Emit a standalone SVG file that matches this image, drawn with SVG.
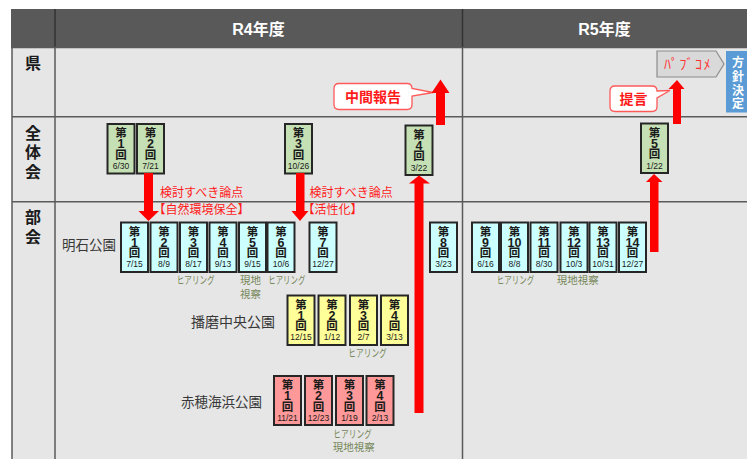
<svg xmlns="http://www.w3.org/2000/svg" width="747" height="459" viewBox="0 0 747 459">
<style>
.bg{fill:#e6e6e6}
.grid{stroke:#5a5a5a;stroke-width:1.5;fill:none}
.hdr{fill:#595959}
.hdiv{stroke:#333;stroke-width:1.5}
.htxt{fill:#fff;font-family:"Liberation Sans","Noto Sans CJK JP",sans-serif;font-weight:bold;font-size:16px;text-anchor:middle}
.row{fill:#1a1a1a;font-family:"Noto Sans CJK JP",sans-serif;font-weight:bold;font-size:16px;text-anchor:middle}
.node rect{stroke:#262626;stroke-width:2}
.g rect{fill:#c5e0b4}
.c rect{fill:#ccffff}
.y rect{fill:#ffff99}
.p rect{fill:#ff9999}
.node text{text-anchor:middle;fill:#1a1a1a;font-family:"Liberation Sans","Noto Sans CJK JP",sans-serif}
.k{font-size:11.5px;font-weight:bold}
.n{font-size:12.5px;font-weight:bold}
.d{font-size:8.5px;font-weight:normal}
.park{fill:#383838;font-family:"Noto Sans CJK JP",sans-serif}
.note{fill:#76885a;font-family:"Noto Sans CJK JP",sans-serif;font-size:10.5px}
.rtxt{fill:#ff1a1a;font-family:"Noto Sans CJK JP",sans-serif;font-size:12px}
.arrow{fill:#ff0000}
.callout{fill:#fff;stroke:#ff5a5a;stroke-width:1.3}
.ctxt{fill:#ff1a1a;font-family:"Noto Sans CJK JP",sans-serif;font-weight:bold;font-size:14px;text-anchor:middle}
</style>

<rect x="0" y="0" width="747" height="459" fill="#ffffff"/>
<g id="table">
  <rect class="bg" x="12" y="47" width="735" height="412"/>
  <rect class="hdr" x="11" y="9" width="736" height="38.5"/>
  <line class="hdiv" x1="55" y1="9" x2="55" y2="47.5"/>
  <line class="hdiv" x1="462.5" y1="9" x2="462.5" y2="47.5"/>
  <text class="htxt" x="258.5" y="34.5">R4年度</text>
  <text class="htxt" x="604.5" y="34.5">R5年度</text>
  <line class="grid" x1="11" y1="47.5" x2="747" y2="47.5"/>
  <line class="grid" x1="12" y1="116.7" x2="747" y2="116.7"/>
  <line class="grid" x1="12" y1="201.7" x2="747" y2="201.7"/>
  <line class="grid" x1="12" y1="47" x2="12" y2="459"/>
  <line class="grid" x1="55" y1="47" x2="55" y2="459"/>
  <line class="grid" x1="462.5" y1="47" x2="462.5" y2="459"/>
  <text class="row" x="33" y="68.5">県</text>
  <text class="row"><tspan x="33" y="139">全</tspan><tspan x="33" y="158">体</tspan><tspan x="33" y="177.5">会</tspan></text>
  <text class="row"><tspan x="33" y="222.5">部</tspan><tspan x="33" y="242.5">会</tspan></text>
</g>

<g id="labels">
  <text class="park" x="62" y="250" font-size="13.5">明石公園</text>
  <text class="park" x="191" y="326.7" font-size="14">播磨中央公園</text>
  <text class="park" x="181" y="406.5" font-size="13.5">赤穂海浜公園</text>
  <text class="note" x="176.7" y="284" textLength="38" lengthAdjust="spacingAndGlyphs">ヒアリング</text>
  <text class="note"><tspan x="240" y="284">現地</tspan><tspan x="240" y="297.5">視察</tspan></text>
  <text class="note" x="268.3" y="284" textLength="37" lengthAdjust="spacingAndGlyphs">ヒアリング</text>
  <text class="note" x="496.7" y="283.5" textLength="37.5" lengthAdjust="spacingAndGlyphs">ヒアリング</text>
  <text class="note" x="556.7" y="283.5">現地視察</text>
  <text class="note" x="348.3" y="357" textLength="38.5" lengthAdjust="spacingAndGlyphs">ヒアリング</text>
  <text class="note"><tspan x="333.3" y="438" textLength="38.5" lengthAdjust="spacingAndGlyphs">ヒアリング</tspan><tspan x="332.7" y="450.5">現地視察</tspan></text>
  <text class="rtxt"><tspan x="160" y="197">検討すべき論点</tspan><tspan x="153.5" y="213.5">【自然環境保全】</tspan></text>
  <text class="rtxt"><tspan x="309.5" y="197">検討すべき論点</tspan><tspan x="302.5" y="213.5">【活性化】</tspan></text>
</g>

<g id="zentai-1" class="node g" transform="translate(107.5,124)"><rect width="27" height="49.5"/><text><tspan class="k" x="13.5" y="13">第</tspan><tspan class="n" x="13.5" y="24">1</tspan><tspan class="k" x="13.5" y="34.5">回</tspan><tspan class="d" x="13.5" y="45">6/30</tspan></text></g>
<g id="zentai-2" class="node g" transform="translate(137,124)"><rect width="27" height="49.5"/><text><tspan class="k" x="13.5" y="13">第</tspan><tspan class="n" x="13.5" y="24">2</tspan><tspan class="k" x="13.5" y="34.5">回</tspan><tspan class="d" x="13.5" y="45">7/21</tspan></text></g>
<g id="zentai-3" class="node g" transform="translate(285,124)"><rect width="27" height="49.5"/><text><tspan class="k" x="13.5" y="13">第</tspan><tspan class="n" x="13.5" y="24">3</tspan><tspan class="k" x="13.5" y="34.5">回</tspan><tspan class="d" x="13.5" y="45">10/26</tspan></text></g>
<g id="zentai-4" class="node g" transform="translate(405.5,125.5)"><rect width="27" height="49.5"/><text><tspan class="k" x="13.5" y="13">第</tspan><tspan class="n" x="13.5" y="24">4</tspan><tspan class="k" x="13.5" y="34.5">回</tspan><tspan class="d" x="13.5" y="45">3/22</tspan></text></g>
<g id="zentai-5" class="node g" transform="translate(641,123.5)"><rect width="27" height="49.5"/><text><tspan class="k" x="13.5" y="13">第</tspan><tspan class="n" x="13.5" y="24">5</tspan><tspan class="k" x="13.5" y="34.5">回</tspan><tspan class="d" x="13.5" y="45">1/22</tspan></text></g>

<g id="akashi-1" class="node c" transform="translate(121,222.5)"><rect width="27" height="49.5"/><text><tspan class="k" x="13.5" y="13.5">第</tspan><tspan class="n" x="13.5" y="24.5">1</tspan><tspan class="k" x="13.5" y="34.5">回</tspan><tspan class="d" x="13.5" y="44.5">7/15</tspan></text></g>
<g id="akashi-2" class="node c" transform="translate(150.5,222.5)"><rect width="27" height="49.5"/><text><tspan class="k" x="13.5" y="13.5">第</tspan><tspan class="n" x="13.5" y="24.5">2</tspan><tspan class="k" x="13.5" y="34.5">回</tspan><tspan class="d" x="13.5" y="44.5">8/9</tspan></text></g>
<g id="akashi-3" class="node c" transform="translate(180,222.5)"><rect width="27" height="49.5"/><text><tspan class="k" x="13.5" y="13.5">第</tspan><tspan class="n" x="13.5" y="24.5">3</tspan><tspan class="k" x="13.5" y="34.5">回</tspan><tspan class="d" x="13.5" y="44.5">8/17</tspan></text></g>
<g id="akashi-4" class="node c" transform="translate(209.5,222.5)"><rect width="27" height="49.5"/><text><tspan class="k" x="13.5" y="13.5">第</tspan><tspan class="n" x="13.5" y="24.5">4</tspan><tspan class="k" x="13.5" y="34.5">回</tspan><tspan class="d" x="13.5" y="44.5">9/13</tspan></text></g>
<g id="akashi-5" class="node c" transform="translate(239,222.5)"><rect width="27" height="49.5"/><text><tspan class="k" x="13.5" y="13.5">第</tspan><tspan class="n" x="13.5" y="24.5">5</tspan><tspan class="k" x="13.5" y="34.5">回</tspan><tspan class="d" x="13.5" y="44.5">9/15</tspan></text></g>
<g id="akashi-6" class="node c" transform="translate(267.5,222.5)"><rect width="27" height="49.5"/><text><tspan class="k" x="13.5" y="13.5">第</tspan><tspan class="n" x="13.5" y="24.5">6</tspan><tspan class="k" x="13.5" y="34.5">回</tspan><tspan class="d" x="13.5" y="44.5">10/6</tspan></text></g>
<g id="akashi-7" class="node c" transform="translate(309.5,222.5)"><rect width="27" height="49.5"/><text><tspan class="k" x="13.5" y="13.5">第</tspan><tspan class="n" x="13.5" y="24.5">7</tspan><tspan class="k" x="13.5" y="34.5">回</tspan><tspan class="d" x="13.5" y="44.5">12/27</tspan></text></g>
<g id="akashi-8" class="node c" transform="translate(430,222.5)"><rect width="27" height="49.5"/><text><tspan class="k" x="13.5" y="13.5">第</tspan><tspan class="n" x="13.5" y="24.5">8</tspan><tspan class="k" x="13.5" y="34.5">回</tspan><tspan class="d" x="13.5" y="44.5">3/23</tspan></text></g>
<g id="akashi-9" class="node c" transform="translate(472,222.5)"><rect width="27" height="49.5"/><text><tspan class="k" x="13.5" y="13.5">第</tspan><tspan class="n" x="13.5" y="24.5">9</tspan><tspan class="k" x="13.5" y="34.5">回</tspan><tspan class="d" x="13.5" y="44.5">6/16</tspan></text></g>
<g id="akashi-10" class="node c" transform="translate(501,222.5)"><rect width="27" height="49.5"/><text><tspan class="k" x="13.5" y="13.5">第</tspan><tspan class="n" x="13.5" y="24.5">10</tspan><tspan class="k" x="13.5" y="34.5">回</tspan><tspan class="d" x="13.5" y="44.5">8/8</tspan></text></g>
<g id="akashi-11" class="node c" transform="translate(530.5,222.5)"><rect width="27" height="49.5"/><text><tspan class="k" x="13.5" y="13.5">第</tspan><tspan class="n" x="13.5" y="24.5">11</tspan><tspan class="k" x="13.5" y="34.5">回</tspan><tspan class="d" x="13.5" y="44.5">8/30</tspan></text></g>
<g id="akashi-12" class="node c" transform="translate(560.5,222.5)"><rect width="27" height="49.5"/><text><tspan class="k" x="13.5" y="13.5">第</tspan><tspan class="n" x="13.5" y="24.5">12</tspan><tspan class="k" x="13.5" y="34.5">回</tspan><tspan class="d" x="13.5" y="44.5">10/3</tspan></text></g>
<g id="akashi-13" class="node c" transform="translate(589.5,222.5)"><rect width="27" height="49.5"/><text><tspan class="k" x="13.5" y="13.5">第</tspan><tspan class="n" x="13.5" y="24.5">13</tspan><tspan class="k" x="13.5" y="34.5">回</tspan><tspan class="d" x="13.5" y="44.5">10/31</tspan></text></g>
<g id="akashi-14" class="node c" transform="translate(619,222.5)"><rect width="27" height="49.5"/><text><tspan class="k" x="13.5" y="13.5">第</tspan><tspan class="n" x="13.5" y="24.5">14</tspan><tspan class="k" x="13.5" y="34.5">回</tspan><tspan class="d" x="13.5" y="44.5">12/27</tspan></text></g>

<g id="harima-1" class="node y" transform="translate(287.5,295.5)"><rect width="27" height="49.5"/><text><tspan class="k" x="13.5" y="13">第</tspan><tspan class="n" x="13.5" y="24">1</tspan><tspan class="k" x="13.5" y="34">回</tspan><tspan class="d" x="13.5" y="44.5">12/15</tspan></text></g>
<g id="harima-2" class="node y" transform="translate(318.5,295.5)"><rect width="27" height="49.5"/><text><tspan class="k" x="13.5" y="13">第</tspan><tspan class="n" x="13.5" y="24">2</tspan><tspan class="k" x="13.5" y="34">回</tspan><tspan class="d" x="13.5" y="44.5">1/12</tspan></text></g>
<g id="harima-3" class="node y" transform="translate(350,295.5)"><rect width="27" height="49.5"/><text><tspan class="k" x="13.5" y="13">第</tspan><tspan class="n" x="13.5" y="24">3</tspan><tspan class="k" x="13.5" y="34">回</tspan><tspan class="d" x="13.5" y="44.5">2/7</tspan></text></g>
<g id="harima-4" class="node y" transform="translate(381,295.5)"><rect width="27" height="49.5"/><text><tspan class="k" x="13.5" y="13">第</tspan><tspan class="n" x="13.5" y="24">4</tspan><tspan class="k" x="13.5" y="34">回</tspan><tspan class="d" x="13.5" y="44.5">3/13</tspan></text></g>

<g id="ako-1" class="node p" transform="translate(274,376)"><rect width="27" height="49"/><text><tspan class="k" x="13.5" y="13">第</tspan><tspan class="n" x="13.5" y="24">1</tspan><tspan class="k" x="13.5" y="34.5">回</tspan><tspan class="d" x="13.5" y="45">11/21</tspan></text></g>
<g id="ako-2" class="node p" transform="translate(305,376)"><rect width="27" height="49"/><text><tspan class="k" x="13.5" y="13">第</tspan><tspan class="n" x="13.5" y="24">2</tspan><tspan class="k" x="13.5" y="34.5">回</tspan><tspan class="d" x="13.5" y="45">12/23</tspan></text></g>
<g id="ako-3" class="node p" transform="translate(336,376)"><rect width="27" height="49"/><text><tspan class="k" x="13.5" y="13">第</tspan><tspan class="n" x="13.5" y="24">3</tspan><tspan class="k" x="13.5" y="34.5">回</tspan><tspan class="d" x="13.5" y="45">1/19</tspan></text></g>
<g id="ako-4" class="node p" transform="translate(366.5,376)"><rect width="27" height="49"/><text><tspan class="k" x="13.5" y="13">第</tspan><tspan class="n" x="13.5" y="24">4</tspan><tspan class="k" x="13.5" y="34.5">回</tspan><tspan class="d" x="13.5" y="45">2/13</tspan></text></g>

<g id="callout-chukan">
  <path class="callout" d="M339,83.5 H407 Q412,83.5 412,88.5 L433,92.5 L412,96 V104.5 Q412,109.5 407,109.5 H339 Q334,109.5 334,104.5 V88.5 Q334,83.5 339,83.5 Z"/>
  <text class="ctxt" x="373" y="101.5">中間報告</text>
</g>
<g id="callout-teigen">
  <path class="callout" d="M615,86 H652 Q657,86 657,91 L670,90.5 L657,98 V106.5 Q657,111.5 652,111.5 H615 Q610,111.5 610,106.5 V91 Q610,86 615,86 Z"/>
  <text class="ctxt" x="633.5" y="104">提言</text>
</g>
<g id="pubcom">
  <polygon points="657,51 716,51 724,64 716,77 657,77" fill="#d9d9d9" stroke="#8c8c8c" stroke-width="1.2"/>
  <text x="688" y="69" fill="#ff3333" font-family="Noto Sans CJK JP,sans-serif" font-size="14" text-anchor="middle" letter-spacing="1.5">ﾊﾟﾌﾞｺﾒ</text>
</g>
<g id="hoshin">
  <rect x="726" y="51" width="24" height="61.5" fill="#5b9bd5"/>
  <text fill="#fff" font-family="Noto Sans CJK JP,sans-serif" font-weight="bold" font-size="12" text-anchor="middle"><tspan x="738" y="66.5">方</tspan><tspan x="738" y="80.5">針</tspan><tspan x="738" y="94.5">決</tspan><tspan x="738" y="108">定</tspan></text>
</g>

<g id="connectors">
  <polygon class="arrow" points="144,173 153,173 153,211 159,211 148.5,221 138.5,211 144,211"/>
  <polygon class="arrow" points="296,173 304.5,173 304.5,211 308.5,211 300,221 291.5,211 296,211"/>
  <polygon class="arrow" points="414.5,413 423.5,413 423.5,183.5 430,183.5 419,175.5 409,183.5 414.5,183.5"/>
  <polygon class="arrow" points="436,125 445,125 445,93 449.5,93 440.5,79.5 431.5,93 436,93"/>
  <polygon class="arrow" points="650,252 658.5,252 658.5,182 662.5,182 654,174 646,182 650,182"/>
  <polygon class="arrow" points="673,124 681,124 681,89 684.5,89 677,80 668.5,89 673,89"/>
</g>
</svg>
